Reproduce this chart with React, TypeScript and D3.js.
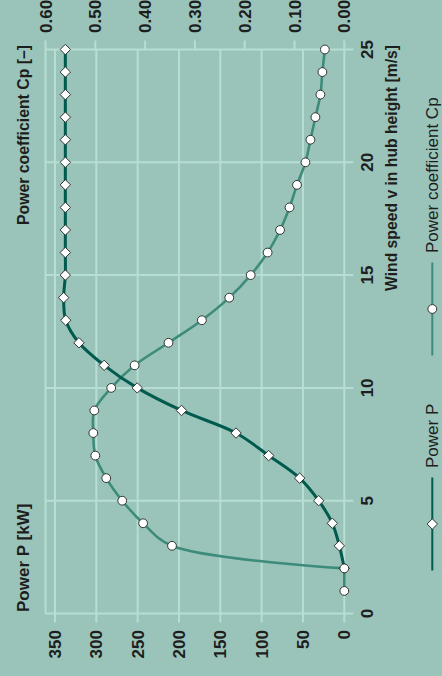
import React from 'react';
import * as d3 from 'd3';

// wind speed in hub height [m/s]
const windSpeed = [1, 2, 3, 4, 5, 6, 7, 8, 9, 10, 11, 12, 13, 14, 15, 16, 17, 18, 19, 20, 21, 22, 23, 24, 25];
// power P [kW] (no value at 1 m/s)
const powerKW = [null, 0, 6, 14.5, 31, 54, 91.5, 131, 197, 250.5, 290.5, 321, 337, 339.5, 337.5, 337.5, 337.5, 337.5, 337.5, 337.5, 337.5, 337.5, 337.5, 337.5, 337.5];
// power coefficient Cp [-]
const powerCoeff = [0, 0, 0.346, 0.404, 0.446, 0.478, 0.5, 0.504, 0.502, 0.468, 0.421, 0.353, 0.286, 0.231, 0.188, 0.154, 0.129, 0.11, 0.095, 0.078, 0.068, 0.058, 0.048, 0.044, 0.039];

const powerTicks = [0, 50, 100, 150, 200, 250, 300, 350];
const cpTicks = [0, 0.1, 0.2, 0.3, 0.4, 0.5, 0.6];
const windTicks = [0, 5, 10, 15, 20, 25];

const W = 442;
const H = 676;

const BG = '#9ac4b9';
const GRID = '#b6ded4';
const DARK = '#005a4e';
const MID = '#3d8b7a';
const TEXT = '#1e1e1e';
const FONT = "'Liberation Sans Narrow', 'Arial Narrow', 'Liberation Sans', sans-serif";

type Pt = { w: number; val: number };

export default function App() {
  // chart is drawn turned on its side: wind speed runs upward, values run leftward
  const v = d3.scaleLinear().domain([0, 25]).range([613.5, 49.5]);
  const p = d3.scaleLinear().domain([0, 350]).range([344.3, 55]);
  const cp = d3.scaleLinear().domain([0, 0.6]).range([344.3, 45.5]);

  const powerPts = windSpeed
    .map((w, i) => ({ w, val: powerKW[i] }))
    .filter(d => d.val !== null) as Pt[];
  const cpPts: Pt[] = windSpeed.map((w, i) => ({ w, val: powerCoeff[i] }));

  const powerLine = d3.line<Pt>()
    .x(d => p(d.val))
    .y(d => v(d.w))
    .curve(d3.curveCatmullRom.alpha(0.5));
  const cpLine = d3.line<Pt>()
    .x(d => cp(d.val))
    .y(d => v(d.w))
    .curve(d3.curveCatmullRom.alpha(0.5));
  const cpStraight = d3.line<Pt>()
    .x(d => cp(d.val))
    .y(d => v(d.w));

  // flat part at zero is straight, the rest is smoothed
  const zeroRun = cpPts.filter(d => d.val === 0);
  const restRun = cpPts.slice(zeroRun.length - 1);

  const left = cp(0.6);
  const right = p(0);
  const top = v(25);
  const bottom = v(0);

  const diamond = (x: number, y: number, s = 5.2) =>
    `M${x},${y - s}L${x + s},${y}L${x},${y + s}L${x - s},${y}Z`;

  const rot = (x: number, y: number) => `translate(${x},${y}) rotate(-90)`;

  return (
    <svg width={W} height={H} style={{ position: 'absolute', left: 0, top: 0 }}>
      <rect width={W} height={H} fill={BG} />

      {/* vertical grid lines from the power axis */}
      {powerTicks.map(t => (
        <line key={'pg' + t} x1={p(t)} x2={p(t)} y1={top} y2={bottom + 9} stroke={GRID} strokeWidth={2} />
      ))}
      <line x1={left} x2={left} y1={top} y2={bottom} stroke={GRID} strokeWidth={2} />

      {/* horizontal grid lines from the wind speed axis */}
      {windTicks.map(t => (
        <line key={'vg' + t} x1={left} x2={right + 9} y1={v(t)} y2={v(t)} stroke={GRID} strokeWidth={2} />
      ))}

      {/* Cp ticks on top */}
      {cpTicks.map(t => (
        <line key={'ct' + t} x1={cp(t)} x2={cp(t)} y1={top - 9} y2={top} stroke={GRID} strokeWidth={2} />
      ))}

      {/* series */}
      <path d={cpStraight(zeroRun) || ''} fill="none" stroke={MID} strokeWidth={2.6} />
      <path d={cpLine(restRun) || ''} fill="none" stroke={MID} strokeWidth={2.6} />
      <path d={powerLine(powerPts) || ''} fill="none" stroke={DARK} strokeWidth={3} />

      {powerPts.map(d => (
        <path key={'pm' + d.w} d={diamond(p(d.val), v(d.w))} fill="#fff" stroke="#333" strokeWidth={1} />
      ))}
      {cpPts.map(d => (
        <circle key={'cm' + d.w} cx={cp(d.val)} cy={v(d.w)} r={4.4} fill="#fff" stroke="#333" strokeWidth={1} />
      ))}

      {/* tick labels */}
      <g fontFamily={FONT} fontWeight="bold" fontSize={17} fill={TEXT}>
        {powerTicks.map(t => (
          <text key={'pl' + t} transform={rot(p(t) + 6, 630)} textAnchor="end">{t}</text>
        ))}
        {cpTicks.map(t => (
          <text key={'cl' + t} transform={rot(cp(t) + 6, 33)} textAnchor="start">{t.toFixed(2)}</text>
        ))}
        {windTicks.map(t => (
          <text key={'wl' + t} transform={rot(373, v(t))} textAnchor="middle">{t}</text>
        ))}

        <text transform={rot(29, 612)} textAnchor="start">Power P [kW]</text>
        <text transform={rot(29, 45)} textAnchor="end" textLength={180} lengthAdjust="spacingAndGlyphs">
          Power coefficient Cp [–]
        </text>
        <text transform={rot(397, 45)} textAnchor="end" textLength={246} lengthAdjust="spacingAndGlyphs">
          Wind speed v in hub height [m/s]
        </text>
      </g>

      {/* legend */}
      <g>
        <line x1={432.3} x2={432.3} y1={477.5} y2={570.5} stroke={DARK} strokeWidth={2} />
        <path d={diamond(432.3, 524)} fill="#fff" stroke="#333" strokeWidth={1} />
        <line x1={432.3} x2={432.3} y1={262.5} y2={355.5} stroke={MID} strokeWidth={2} />
        <circle cx={432.3} cy={309} r={4.4} fill="#fff" stroke="#333" strokeWidth={1} />
        <g fontFamily={FONT} fontSize={17} fill={TEXT}>
          <text transform={rot(438, 468)} textAnchor="start">Power P</text>
          <text transform={rot(438, 253)} textAnchor="start">Power coefficient Cp</text>
        </g>
      </g>
    </svg>
  );
}
